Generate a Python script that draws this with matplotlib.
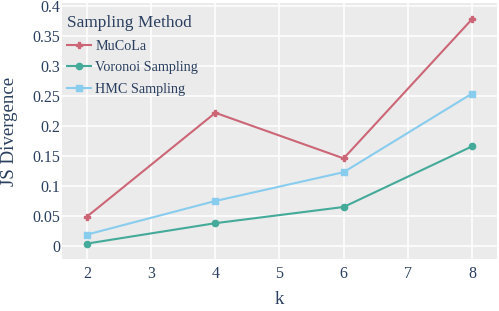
import matplotlib
matplotlib.use('Agg')
from matplotlib import pyplot as plt

k = [2, 4, 6, 8]
mucola = [0.049, 0.222, 0.146, 0.378]
voronoi = [0.004, 0.038, 0.065, 0.166]
hmc = [0.019, 0.075, 0.123, 0.254]

plt.rcParams['font.family'] = ['Liberation Serif', 'DejaVu Serif']
text_col = '#2a3f5f'

fig = plt.figure(figsize=(4.99, 3.11), dpi=100)
ax = fig.add_axes([62/499, 1-259/311, 435/499, 256/311])
ax.set_facecolor('#EBEBEB')

ax.plot(k, mucola, color='#CC6677', lw=1.5, marker='P', ms=5, label='MuCoLa')
ax.plot(k, voronoi, color='#44AA99', lw=1.5, marker='o', ms=4.5, label='Voronoi Sampling')
ax.plot(k, hmc, color='#88CCEE', lw=1.5, marker='s', ms=4.3, label='HMC Sampling')

ax.set_xlim(1.61, 8.39)
ax.set_ylim(-0.0217, 0.405)
ax.set_xticks([2, 3, 4, 5, 6, 7, 8])
ax.set_yticks([0, 0.05, 0.1, 0.15, 0.2, 0.25, 0.3, 0.35, 0.4])
ax.set_yticklabels(['0', '0.05', '0.1', '0.15', '0.2', '0.25', '0.3', '0.35', '0.4'])
ax.grid(True, color='white', lw=1.1)
ax.set_axisbelow(True)
for s in ax.spines.values():
    s.set_visible(False)
ax.tick_params(length=0, labelsize=11.5, colors=text_col)
ax.tick_params(axis='x', pad=5)
ax.tick_params(axis='y', pad=1)

ax.set_xlabel('k', fontsize=13.6, color=text_col)
ax.set_ylabel('JS Divergence', fontsize=13.6, color=text_col)
ax.xaxis.set_label_coords(0.5, -0.125)
ax.yaxis.set_label_coords(-0.1, 0.5)

leg = ax.legend(title='Sampling Method', loc='upper left', frameon=False,
                fontsize=10.2, title_fontsize=12.4, labelcolor=text_col,
                handlelength=1.7, handletextpad=0.3, labelspacing=0.62,
                borderaxespad=0.0, borderpad=0.2,
                bbox_to_anchor=(0.005, 0.965))
leg.get_title().set_color(text_col)
leg._legend_box.align = 'left'

plt.savefig('out.png', dpi=100)
